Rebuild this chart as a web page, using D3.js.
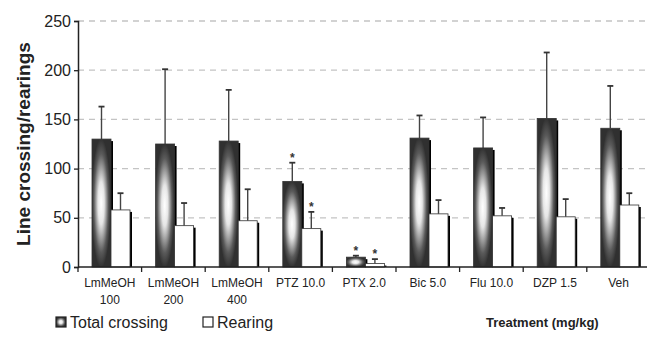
<!DOCTYPE html>
<html>
<head>
<meta charset="utf-8">
<script src="https://cdn.jsdelivr.net/npm/d3@7"></script>
<style>
  body { margin: 0; background: #fff; }
  text { font-family: "Liberation Sans", Arial, sans-serif; }
</style>
</head>
<body>
<svg id="chart" width="647" height="344"></svg>
<script>
// data
const categories = ["LmMeOH 100", "LmMeOH 200", "LmMeOH 400", "PTZ 10.0", "PTX 2.0", "Bic 5.0", "Flu 10.0", "DZP 1.5", "Veh"];
const labelLines = [["LmMeOH", "100"], ["LmMeOH", "200"], ["LmMeOH", "400"], ["PTZ 10.0"], ["PTX 2.0"], ["Bic 5.0"], ["Flu 10.0"], ["DZP 1.5"], ["Veh"]];
const totalCrossing = [130, 125, 128, 87, 10, 131, 121, 151, 141];
const totalSem = [33, 76, 52, 19, 1.5, 23, 31, 67, 43];
const rearing = [58, 42, 47, 39, 3.5, 54, 52, 51, 63];
const rearingSem = [17, 23, 32, 17, 4.5, 14, 8, 18, 12];
const totalSig = [0, 0, 0, 1, 1, 0, 0, 0, 0];
const rearingSig = [0, 0, 0, 1, 1, 0, 0, 0, 0];
const yTicks = [0, 50, 100, 150, 200, 250];

const svg = d3.select("#chart");

// elliptical "from centre" fill like the original
const defs = svg.append("defs");
const grad = defs.append("radialGradient")
    .attr("id", "barGrad")
    .attr("cx", 0.48).attr("cy", 0.5).attr("r", 0.55);
grad.append("stop").attr("offset", "0%").attr("stop-color", "#ffffff");
grad.append("stop").attr("offset", "30%").attr("stop-color", "#e6e6e6");
grad.append("stop").attr("offset", "70%").attr("stop-color", "#5a5a5a");
grad.append("stop").attr("offset", "92%").attr("stop-color", "#303030");

x = d3.scaleBand().domain(categories).range([78, 78 + 9 * 63.6]);
x1 = d3.scaleBand().domain(["total", "rearing"]).range([14, 52]);
y = d3.scaleLinear().domain([0, 250]).range([267, 21]);

// dashed grid
svg.append("g").selectAll("line")
    .data(yTicks.filter(d => d > 0))
    .join("line")
    .attr("x1", 78).attr("x2", 647)
    .attr("y1", d => y(d)).attr("y2", d => y(d))
    .attr("stroke", "#c4c4c4")
    .attr("stroke-width", 1.3)
    .attr("stroke-dasharray", "6,5");

rows = categories.map((c, i) => ({
    cat: c,
    bars: [
        {key: "total", value: totalCrossing[i], sem: totalSem[i], sig: totalSig[i]},
        {key: "rearing", value: rearing[i], sem: rearingSem[i], sig: rearingSig[i]}
    ]
}));

bw = x1.bandwidth();

groups = svg.append("g").selectAll("g")
    .data(rows)
    .join("g")
    .attr("transform", d => `translate(${x(d.cat)},0)`);

// error bars first (behind bars)
groups.selectAll(".err")
    .data(d => d.bars)
    .join("g")
    .attr("class", "err")
    .each(function (d) {
        g = d3.select(this);
        cx = x1(d.key) + bw / 2;
        g.append("line")
            .attr("x1", cx).attr("x2", cx)
            .attr("y1", y(d.value)).attr("y2", y(d.value + d.sem))
            .attr("stroke", "#444").attr("stroke-width", 1.4);
        g.append("line")
            .attr("x1", cx - 3).attr("x2", cx + 3)
            .attr("y1", y(d.value + d.sem)).attr("y2", y(d.value + d.sem))
            .attr("stroke", "#333").attr("stroke-width", 1.8);
        if (d.sig) {
            g.append("text")
                .attr("x", cx)
                .attr("y", y(d.value + d.sem) - 1)
                .attr("text-anchor", "middle")
                .style("font-size", "12px")
                .style("font-weight", "bold")
                .attr("fill", "#333")
                .text("*");
        }
    });

// shadows
groups.selectAll(".shadow")
    .data(d => d.bars)
    .join("rect")
    .attr("class", "shadow")
    .attr("x", d => x1(d.key) + 2)
    .attr("y", d => y(d.value) + 2)
    .attr("width", bw)
    .attr("height", d => y(0) - y(d.value) - 2)
    .attr("fill", "#000");

groups.selectAll(".bar")
    .data(d => d.bars)
    .join("rect")
    .attr("class", "bar")
    .attr("x", d => x1(d.key))
    .attr("y", d => y(d.value))
    .attr("width", bw)
    .attr("height", d => y(0) - y(d.value))
    .attr("fill", d => d.key === "total" ? "url(#barGrad)" : "#fff")
    .attr("stroke", "#333")
    .attr("stroke-width", 0.8);

// y axis
yAxis = svg.append("g")
    .attr("transform", "translate(78,0)")
    .call(d3.axisLeft(y).tickValues(yTicks).tickSize(4).tickPadding(3));
yAxis.select(".domain").attr("stroke", "#222").attr("stroke-width", 1.5);
yAxis.selectAll(".tick line").attr("stroke", "#222").attr("stroke-width", 1.3);
yAxis.selectAll(".tick text")
    .style("font-size", "16px")
    .style("font-family", "'Liberation Sans', Arial, sans-serif")
    .attr("fill", "#222");

// x axis with ticks on band boundaries
svg.append("line")
    .attr("x1", 78).attr("x2", 647)
    .attr("y1", y(0)).attr("y2", y(0))
    .attr("stroke", "#222").attr("stroke-width", 1.5);
svg.append("g").selectAll("line")
    .data(categories)
    .join("line")
    .attr("x1", d => x(d)).attr("x2", d => x(d))
    .attr("y1", y(0)).attr("y2", y(0) + 5)
    .attr("stroke", "#222").attr("stroke-width", 1.3);

svg.append("g").selectAll("text")
    .data(categories)
    .join("text")
    .attr("text-anchor", "middle")
    .attr("fill", "#222")
    .style("font-size", "12px")
    .attr("transform", d => `translate(${x(d) + x.bandwidth() / 2},287)`)
    .each(function (d, i) {
        t = d3.select(this);
        labelLines[i].forEach((ln, j) => {
            t.append("tspan").attr("x", 0).attr("dy", j === 0 ? 0 : 17).text(ln);
        });
    });

// y title
svg.append("text")
    .attr("transform", "translate(30,144) rotate(-90)")
    .attr("text-anchor", "middle")
    .style("font-size", "19px")
    .style("font-weight", "bold")
    .attr("fill", "#222")
    .text("Line crossing/rearings");

// legend
legendItems = [{label: "Total crossing", fill: "url(#barGrad)", x: 56}, {label: "Rearing", fill: "#fff", x: 203}];
leg = svg.append("g").selectAll("g")
    .data(legendItems)
    .join("g")
    .attr("transform", d => `translate(${d.x},317)`);
leg.append("rect")
    .attr("width", 10).attr("height", 10)
    .attr("fill", d => d.fill)
    .attr("stroke", "#222").attr("stroke-width", 1.2);
leg.append("text")
    .attr("x", 14).attr("y", 10.5)
    .style("font-size", "16px")
    .attr("fill", "#222")
    .text(d => d.label);

svg.append("text")
    .attr("x", 486).attr("y", 327)
    .style("font-size", "13px")
    .style("font-weight", "bold")
    .attr("fill", "#222")
    .text("Treatment (mg/kg)");
</script>
</body>
</html>
